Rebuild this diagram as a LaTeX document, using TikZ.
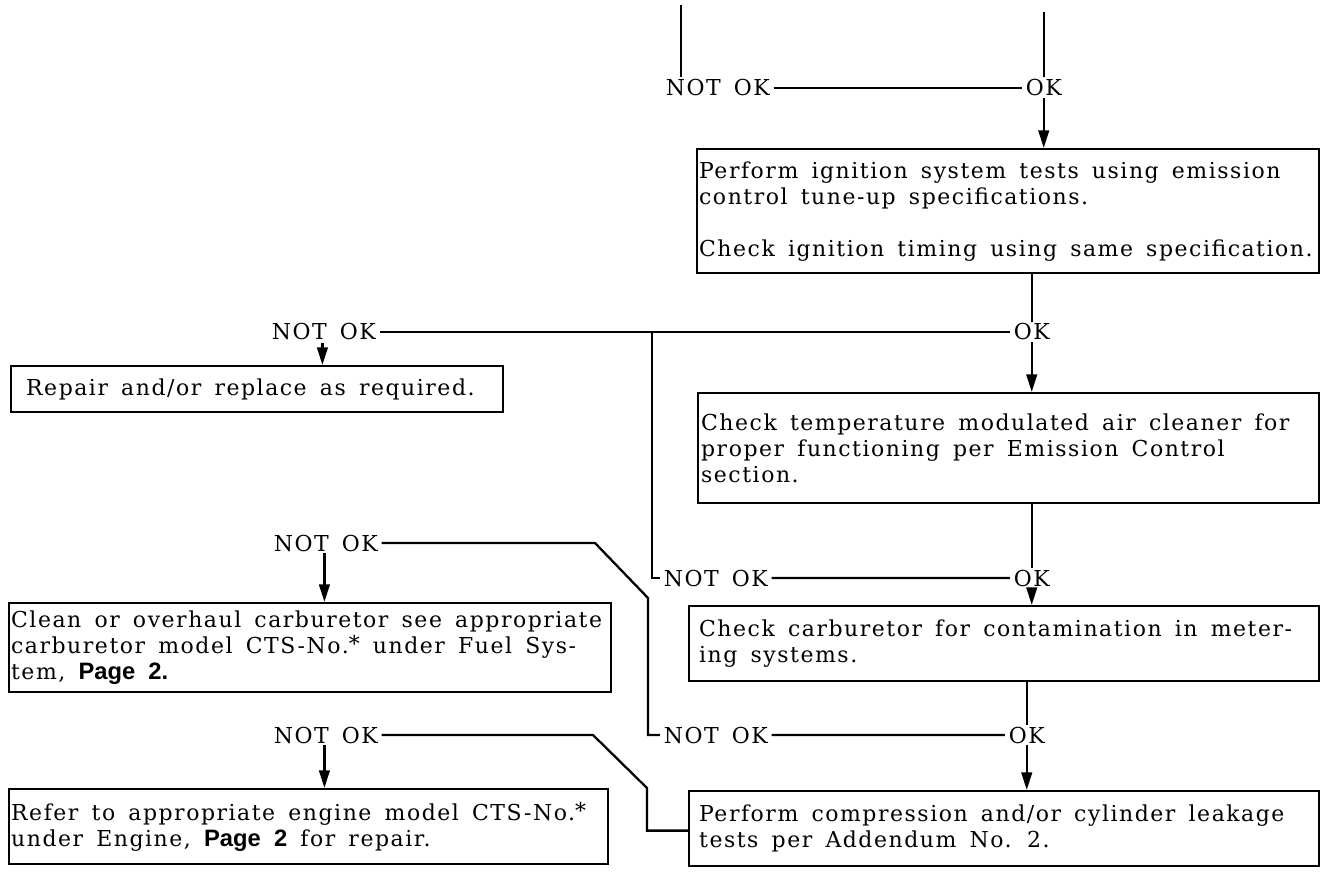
\documentclass[tikz,border=0pt]{standalone}
\usepackage{fontspec}
\setmainfont{DejaVu Serif}[LetterSpace=7]
\newfontfamily\pagefont{Liberation Sans}
\usetikzlibrary{arrows.meta}

\newcommand{\chartfont}{\fontsize{12.5}{14.8}\selectfont}
\newcommand{\widespaces}{\spaceskip=0.6em plus 0.1em\relax\xspaceskip=0.7em plus 0.1em\relax}
\newcommand{\starnote}{\raisebox{0.2ex}{*}}
\newcommand{\pagemark}[1]{{\pagefont\bfseries\fontsize{13.5}{14.8}\selectfont #1}}

\begin{document}
\begin{tikzpicture}[scale=0.2, line width=1.3pt]
	\tikzstyle{every node}+=[inner sep=0pt, font=\chartfont, execute at begin node=\widespaces]
	\tikzstyle{answer}=[inner xsep=1.5pt, anchor=west]
	\tikzstyle{testbox}=[draw, anchor=north west, align=left]
	\tikzstyle{arr}=[-{Triangle[length=10pt,width=6pt]}]
	\useasboundingbox (0,0) rectangle (132.2,-87.3);
	% answer labels
	\draw (66.2,-8.8) node[answer] (nok1) {NOT OK};
	\draw (102.2,-8.8) node[answer] (ok1) {OK};
	\draw (26.8,-33.2) node[answer] (nok2) {NOT OK};
	\draw (101.0,-33.2) node[answer] (ok2) {OK};
	\draw (66.0,-57.8) node[answer] (nok3r) {NOT OK};
	\draw (101.0,-57.8) node[answer] (ok3) {OK};
	\draw (27.0,-54.3) node[answer] (nok3l) {NOT OK};
	\draw (66.0,-73.5) node[answer] (nok4r) {NOT OK};
	\draw (100.5,-73.5) node[answer] (ok4) {OK};
	\draw (27.0,-73.5) node[answer] (nok5l) {NOT OK};
	% test boxes
	\draw (69.6,-14.8) node[testbox, minimum width=12.44cm, minimum height=2.48cm, text width=12.36cm, inner xsep=0.04cm] (ign)
		{Perform ignition system tests using emission\\control tune-up specifications.\\[14.8pt]Check ignition timing using same specification.};
	\draw (1.0,-36.5) node[testbox, minimum width=9.84cm, minimum height=0.92cm, text width=9.24cm, inner xsep=0.3cm] (repair)
		{Repair and/or replace as required.};
	\draw (69.7,-39.2) node[testbox, minimum width=12.42cm, minimum height=2.2cm, text width=12.3cm, inner xsep=0.06cm] (aircl)
		{Check temperature modulated air cleaner for\\proper functioning per Emission Control\\section.};
	\draw (68.8,-60.5) node[testbox, minimum width=12.6cm, minimum height=1.5cm, text width=12.2cm, inner xsep=0.2cm] (carb)
		{Check carburetor for contamination in meter-\\ing systems.};
	\draw (0.8,-60.2) node[testbox, minimum width=12.04cm, minimum height=1.78cm, text width=11.96cm, inner xsep=0.04cm] (clean)
		{Clean or overhaul carburetor see appropriate\\carburetor model CTS-No.\starnote{} under Fuel Sys-\\tem, \pagemark{Page 2.}};
	\draw (68.8,-79.0) node[testbox, minimum width=12.6cm, minimum height=1.5cm, text width=12.2cm, inner xsep=0.2cm] (compr)
		{Perform compression and/or cylinder leakage\\tests per Addendum No. 2.};
	\draw (0.8,-78.8) node[testbox, minimum width=11.98cm, minimum height=1.5cm, text width=11.9cm, inner xsep=0.04cm] (refer)
		{Refer to appropriate engine model CTS-No.\starnote\\under Engine, \pagemark{Page 2} for repair.};
	% incoming lines at the top
	\coordinate (inL) at (68.1,-0.5);
	\draw (inL) -- ([yshift=5pt]inL |- nok1.north);
	\draw ([yshift=4pt]ok1.north) -- ++(0,6.5);
	\draw (nok1) -- (ok1);
	\draw [arr] ([yshift=-2pt]ok1.south) -- (ok1.south |- ign.north);
	% ignition tests
	\draw (ok2.north |- ign.south) -- ([yshift=2pt]ok2.north);
	\draw (nok2) -- (ok2);
	\draw [arr] ([xshift=-4pt,yshift=-3pt]nok2.south) -- ([xshift=-4pt]nok2.south |- repair.north);
	\draw [arr] ([yshift=-2pt]ok2.south) -- (ok2.south |- aircl.north);
	\coordinate (j1) at (65.2,-33.2);
	\draw (j1) |- (nok3r.west);
	% air cleaner
	\draw (ok3.north |- aircl.south) -- ([yshift=2pt]ok3.north);
	\draw (nok3r) -- (ok3);
	\draw [arr] ([yshift=-2pt]ok3.south) -- (ok3.south |- carb.north);
	% carburetor
	\draw (ok4.north |- carb.south) -- ([yshift=2pt]ok4.north);
	\draw (nok4r) -- (ok4);
	\draw [arr] ([yshift=-2pt]ok4.south) -- (ok4.south |- compr.north);
	\coordinate (k1) at (64.8,-59.8);
	\coordinate (k2) at (59.5,-54.3);
	\draw (nok4r.west) -| (k1) -- (k2) -- (nok3l.east);
	\draw [arr] ([xshift=-4pt,yshift=-3pt]nok3l.south) -- ([xshift=-4pt]nok3l.south |- clean.north);
	% compression
	\coordinate (k3) at (64.7,-78.8);
	\coordinate (k4) at (59.3,-73.5);
	\draw ([yshift=-0.2cm]compr.west) -| (k3) -- (k4) -- (nok5l.east);
	\draw [arr] ([xshift=-4pt,yshift=-3pt]nok5l.south) -- ([xshift=-4pt]nok5l.south |- refer.north);
\end{tikzpicture}
\end{document}
